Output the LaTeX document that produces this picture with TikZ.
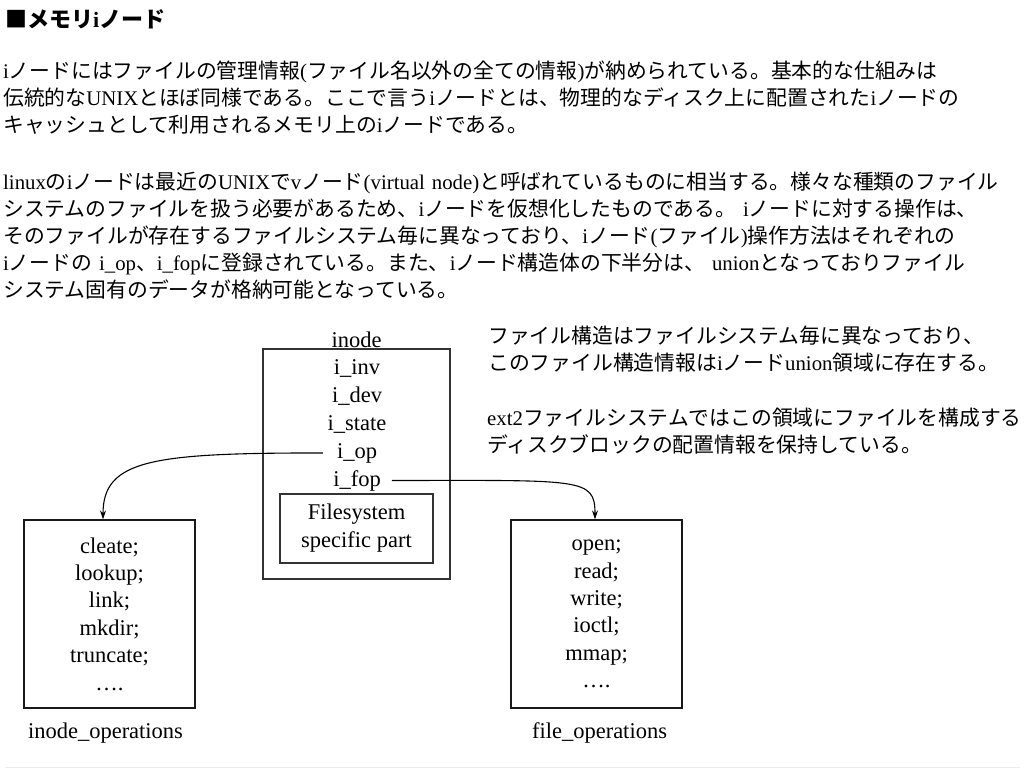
\documentclass[tikz,border=0pt]{standalone}
\usepackage{fontspec}
\setmainfont{Liberation Serif}
\newfontfamily\jpfont{Noto Sans CJK JP}
\usetikzlibrary{arrows.meta,positioning}

% kana and kanji go to the Japanese font, the rest stays in Times
\XeTeXinterchartokenstate=1
\newXeTeXintercharclass\jpclass
\chardef\edgeclass=4095
\newcount\jpcode
\newcommand\setjprange[2]{%
  \jpcode=#1\relax
  \loop
    \XeTeXcharclass\jpcode=\jpclass
    \ifnum\jpcode<#2\relax \advance\jpcode by 1 \repeat}
\setjprange{"3000}{"30FF}
\setjprange{"4E00}{"9FFF}
\setjprange{"FF00}{"FFEF}
\XeTeXcharclass"25A0=\jpclass
\XeTeXinterchartoks 0 \jpclass = {\jpfont}
\XeTeXinterchartoks \edgeclass \jpclass = {\jpfont}
\XeTeXinterchartoks \jpclass 0 = {\rmfamily}
\XeTeXinterchartoks \jpclass \edgeclass = {\rmfamily}
\XeTeXinterchartoks \edgeclass 0 = {\rmfamily}

\begin{document}
\begin{tikzpicture}[x=1pt,y=1pt,
  every node/.style={inner sep=0pt},
  para/.style={anchor=base west,align=left,text width=1020pt,font=\fontsize{20.8}{27}\selectfont},
  box/.style={draw=black!80,line width=1.2pt},
  field/.style={font=\fontsize{22.5}{28}\selectfont},
  optable/.style={box,draw=black!90,minimum width=171pt,minimum height=188pt,align=center,font=\fontsize{22.5}{27.4}\selectfont},
  link/.style={-{Stealth[length=9pt,width=6pt]},line width=1.1pt}]
  \useasboundingbox (0,0) rectangle (1024,-768);

  % heading and text
  \node[anchor=base west,font=\fontsize{22}{26}\selectfont\bfseries] (title) at (5,-28) {■メモリiノード};
  \node[para] (intro) at (3,-78) {iノードにはファイルの管理情報(ファイル名以外の全ての情報)が納められている。基本的な仕組みは\\
    伝統的なUNIXとほぼ同様である。ここで言うiノードとは、物理的なディスク上に配置されたiノードの\\
    キャッシュとして利用されるメモリ上のiノードである。};
  \node[para] (vnode) at (3,-189) {linuxのiノードは最近のUNIXでvノード(virtual node)と呼ばれているものに相当する。様々な種類のファイル\\
    システムのファイルを扱う必要があるため、iノードを仮想化したものである。 iノードに対する操作は、\\
    そのファイルが存在するファイルシステム毎に異なっており、iノード(ファイル)操作方法はそれぞれの\\
    iノードの i\_op、i\_fopに登録されている。また、iノード構造体の下半分は、 unionとなっておりファイル\\
    システム固有のデータが格納可能となっている。};
  \node[para,text width=540pt] (note) at (488,-343) {ファイル構造はファイルシステム毎に異なっており、\\
    このファイル構造情報はiノードunion領域に存在する。};
  \node[para,text width=540pt] (ext) at (487,-425) {ext2ファイルシステムではこの領域にファイルを構成する\\
    ディスクブロックの配置情報を保持している。};

  % inode structure
  \node[box,minimum width=187pt,minimum height=230pt,label={[field]above:inode}] (inode) at (356.5,-464) {};
  \foreach \f [count=\k] in {inv,dev,state,op,fop}
    \node[field,anchor=base] (i\f) at (357,-346-28*\k) {i\_\f};
  \node[box,field,minimum width=153pt,minimum height=69pt,align=center] (fspart) at (356.5,-528.5) {Filesystem\\specific part};

  % operation tables
  \node[optable] (inodeops) at (109.5,-614) {cleate;\\lookup;\\link;\\mkdir;\\truncate;\\….};
  \node[optable] (fileops) at (596.5,-614) {open;\\read;\\write;\\ioctl;\\mmap;\\….};
  \node[field,below=14pt of inodeops,xshift=-4pt] (inodeopsname) {inode\_operations};
  \node[field,below=14pt of fileops,xshift=3pt] (fileopsname) {file\_operations};

  % pointers
  \draw[link] ([xshift=-14pt]iop.west) to[out=180,in=90,out distance=170pt,in distance=60pt] ([xshift=-6.5pt]inodeops.north);
  \draw[link] ([xshift=11pt]ifop.east) to[out=0,in=90,out distance=190pt,in distance=42pt] ([xshift=-1.5pt]fileops.north);

  \draw[black!8,line width=1pt] (5,-767) -- (1020,-767);
\end{tikzpicture}
\end{document}
